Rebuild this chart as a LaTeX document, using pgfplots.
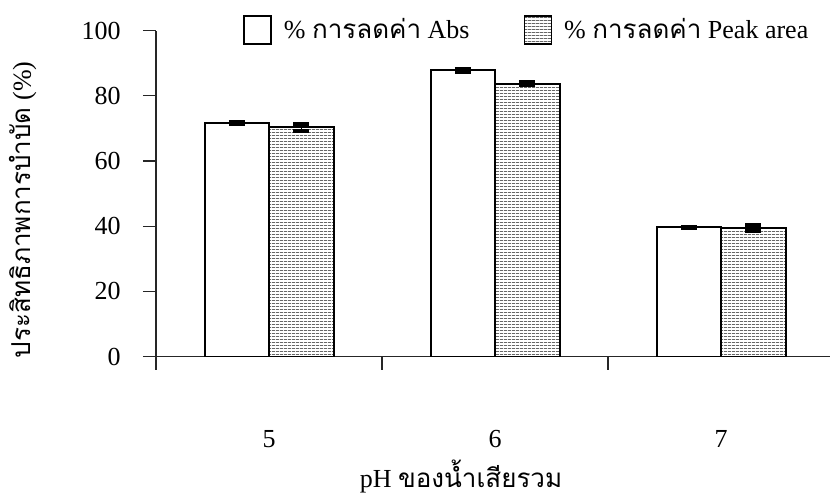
\documentclass[border=0pt]{standalone}
\usepackage{pgfplots}
\pgfplotsset{compat=1.18}
\usepackage{fontspec}
\setmainfont{Liberation Serif}
\newfontfamily\thai[Script=Thai]{Loma}
\usetikzlibrary{patterns.meta}
\tikzdeclarepattern{
  name=hlines,
  type=uncolored,
  bounding box={(0,0) and (2bp,1.6bp)},
  tile size={(2bp,1.6bp)},
  code={\pgfpathrectangle{\pgfpointorigin}{\pgfqpoint{2bp}{0.5bp}}\pgfusepath{fill}}
}
\pgfplotsset{
  myerr/.style={error bars/.cd, y dir=both, y explicit,
    error bar style={line width=0.6bp, black, solid},
    error mark options={rotate=90, line width=2bp, mark size=4bp, black, solid}}
}
\begin{document}
\fontsize{13bp}{15.6bp}\selectfont
\begin{tikzpicture}
\begin{axis}[
  at={(78bp,72.75bp)}, anchor=south west,
  scale only axis, width=337bp, height=162.9bp,
  xmin=4.5, xmax=7.482, ymin=0, ymax=100,
  axis x line*=bottom, axis y line*=left,
  axis line style={-, line width=0.6bp, black!85},
  every tick/.style={line width=0.6bp, black!85},
  tick align=outside, major tick length=6.5bp,
  xtick={4.5,5.5,6.5}, xticklabels={},
  extra x ticks={5,6,7},
  extra x tick labels={5,6,7},
  extra x tick style={major tick length=0pt,
     xticklabel style={anchor=north, inner sep=0pt, yshift=-36.75bp}},
  ytick={0,20,40,60,80,100},
  yticklabel style={anchor=east, inner sep=0pt, xshift=-11bp},
  /pgf/number format/assume math mode=true,
  ybar=0pt, bar width=32.25bp,
  xlabel={pH {\thai ของน้ำเสียรวม}},
  xlabel style={at={(axis description cs:0.4525,-0.4006)}, anchor=base},
  ylabel={{\thai ประสิทธิภาพการบำบัด} (\%)},
  ylabel style={at={(axis description cs:-0.1973,0.45)}, anchor=center},
  legend columns=2,
  legend style={draw=none, fill=none, at={(axis description cs:0.129,1.002)}, anchor=west,
    inner sep=0pt, nodes={inner sep=0pt},
    /tikz/every odd column/.append style={column sep=6bp},
    /tikz/every even column/.append style={column sep=27bp}},
  legend image code/.code={\draw[#1, line width=0.8bp] (0bp,-7bp) rectangle (13.5bp,7bp);},
]
\addplot[draw=black, fill=white, line width=1bp, myerr]
  coordinates {(5,71.6) +- (0,0.3) (6,87.8) +- (0,0.5) (7,39.6) +- (0,0.3)};
\addplot[draw=black, line width=1bp, pattern={hlines}, pattern color=black!60, myerr]
  coordinates {(5,70.4) +- (0,1.1) (6,83.7) +- (0,0.5) (7,39.4) +- (0,0.9)};
\legend{\% {\thai การลดค่า} Abs, \% {\thai การลดค่า} Peak area}
\end{axis}
\pgfresetboundingbox
\path[use as bounding box] (0,0) rectangle (415bp,251bp);
\end{tikzpicture}
\end{document}
